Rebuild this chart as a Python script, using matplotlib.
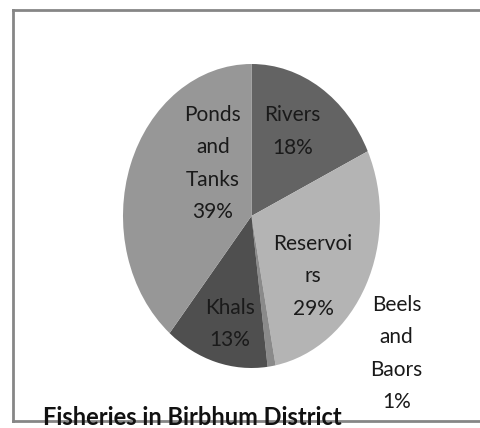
import matplotlib
matplotlib.use('Agg')
import matplotlib.pyplot as plt
from matplotlib.lines import Line2D

# data
categories = ['Rivers', 'Reservoirs', 'Beels and Baors', 'Khals', 'Ponds and Tanks']
shares = [18, 29, 1, 13, 39]
label_text = ['Rivers\n18%', 'Reservoi\nrs\n29%', 'Beels\nand\nBaors\n1%', 'Khals\n13%', 'Ponds\nand\nTanks\n39%']

# layout / style
colors = ['#636363', '#b4b4b4', '#8a8a8a', '#4f4f4f', '#979797']
label_pos = [(0.32, 0.556), (0.48, -0.395), (1.13, -0.905), (-0.167, -0.71), (-0.30, 0.345)]

fig = plt.figure(figsize=(4.81, 4.28), dpi=100)
fig.patch.set_facecolor('white')

# outer chart frame (right side runs off the image)
frame_col = '#868686'
fig.add_artist(Line2D([13 / 481, 1.01], [1 - 10 / 428, 1 - 10 / 428], color=frame_col, lw=2))
fig.add_artist(Line2D([13 / 481, 13 / 481], [1 - 10 / 428, 1 - 421 / 428], color=frame_col, lw=2))
fig.add_artist(Line2D([13 / 481, 1.01], [1 - 421 / 428, 1 - 421 / 428], color=frame_col, lw=2))

ax = fig.add_axes([123 / 481, 60 / 428, 257 / 481, 304 / 428])
ax.pie(shares, colors=colors, startangle=90, counterclock=False, radius=1,
       wedgeprops=dict(linewidth=0))
ax.set_aspect('auto')
ax.set_xlim(-1, 1)
ax.set_ylim(-1, 1)
ax.axis('off')

for txt, (x, y) in zip(label_text, label_pos):
    ax.text(x, y, txt, ha='center', va='center', fontsize=15, family='Lato',
            color='#1a1a1a', linespacing=1.78, clip_on=False)

fig.text(43 / 481, 1 - 425 / 428, 'Fisheries in Birbhum District', ha='left', va='baseline',
         fontsize=17, fontweight='bold', family='Lato', color='#111111')

fig.savefig('out.png', dpi=100)
